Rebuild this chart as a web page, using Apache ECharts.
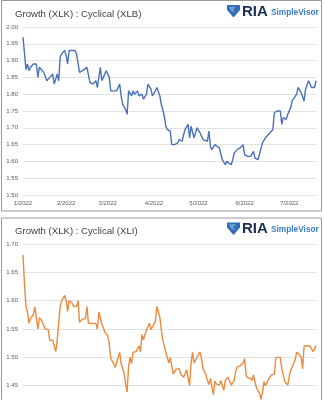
<!DOCTYPE html>
<html><head><meta charset="utf-8">
<script src="https://cdn.jsdelivr.net/npm/echarts@6/dist/echarts.min.js"></script>
<style>html,body{margin:0;padding:0;background:#fff}#c{width:324px;height:400px}</style>
</head><body><div id="c"></div><script>
// x values: calendar days since 2022-01-03
const monthTicks = [0, 29, 57, 88, 118, 149, 179];
const monthLabels = ['1/2022', '2/2022', '3/2022', '4/2022', '5/2022', '6/2022', '7/2022'];

const titles = ['Growth (XLK) : Cyclical (XLB)', 'Growth (XLK) : Cyclical (XLI)'];

const daysXLB = [0,2,3,4,5,7,9,10,11,12,14,16,18,20,21,23,24,25,26,28,29,30,31,33,35,36,38,40,41,43,45,47,49,50,52,53,54,56,58,59,61,63,65,66,67,69,70,71,73,74,75,76,77,78,80,81,83,84,86,87,89,90,92,93,95,96,97,99,100,102,104,105,107,108,109,111,112,113,114,115,117,118,119,121,122,124,125,126,127,129,130,132,133,134,136,137,138,140,141,142,144,145,146,148,149,151,152,153,155,156,158,159,161,162,163,165,166,168,169,171,173,174,175,177,178,180,181,182,184,185,186,187,189,190,192,193,194,196,197];
const valsXLB = [1.97,1.873,1.89,1.87,1.88,1.89,1.89,1.85,1.88,1.875,1.865,1.84,1.85,1.86,1.83,1.86,1.84,1.91,1.92,1.93,1.915,1.89,1.93,1.93,1.93,1.92,1.865,1.87,1.875,1.88,1.835,1.83,1.84,1.82,1.88,1.84,1.85,1.87,1.85,1.81,1.81,1.81,1.83,1.795,1.77,1.755,1.74,1.81,1.795,1.81,1.80,1.795,1.81,1.795,1.80,1.785,1.80,1.83,1.815,1.795,1.81,1.82,1.795,1.77,1.735,1.705,1.695,1.69,1.65,1.65,1.655,1.665,1.66,1.68,1.695,1.71,1.67,1.705,1.71,1.67,1.70,1.695,1.685,1.665,1.665,1.66,1.69,1.645,1.635,1.65,1.645,1.64,1.635,1.605,1.59,1.60,1.595,1.59,1.605,1.625,1.635,1.635,1.64,1.65,1.62,1.615,1.61,1.615,1.63,1.61,1.605,1.60,1.655,1.65,1.67,1.68,1.685,1.695,1.745,1.75,1.75,1.71,1.73,1.725,1.74,1.76,1.78,1.78,1.80,1.82,1.815,1.805,1.78,1.815,1.84,1.83,1.82,1.82,1.84];

const daysXLI = [0,1,2,3,4,5,7,8,9,10,11,13,14,15,17,18,20,21,22,23,25,26,28,29,30,31,33,34,36,37,38,40,42,43,44,46,47,49,50,51,53,54,55,57,58,59,61,62,63,65,66,68,69,70,71,72,73,74,75,76,78,79,80,81,82,83,85,86,87,89,90,92,93,94,96,97,98,99,101,102,103,105,106,108,109,110,112,113,114,115,117,118,119,120,121,123,124,125,126,127,128,129,130,132,133,134,135,136,138,139,140,142,143,144,146,148,149,150,151,153,154,155,156,157,159,160,161,162,163,165,166,167,169,170,171,173,174,175,176,178,179,180,182,183,184,186,187,188,189,191,193,194,195,197];
const valsXLI = [1.681,1.63,1.59,1.58,1.56,1.568,1.576,1.589,1.59,1.55,1.57,1.563,1.556,1.55,1.549,1.53,1.53,1.53,1.51,1.53,1.59,1.60,1.609,1.601,1.581,1.60,1.596,1.59,1.59,1.60,1.562,1.567,1.569,1.59,1.56,1.56,1.56,1.56,1.55,1.58,1.558,1.553,1.544,1.538,1.523,1.498,1.489,1.482,1.48,1.509,1.489,1.472,1.453,1.439,1.484,1.50,1.489,1.509,1.51,1.51,1.52,1.51,1.54,1.531,1.54,1.548,1.56,1.549,1.549,1.563,1.59,1.571,1.549,1.53,1.51,1.50,1.49,1.50,1.471,1.475,1.479,1.48,1.471,1.465,1.471,1.478,1.45,1.489,1.509,1.49,1.50,1.505,1.509,1.498,1.48,1.469,1.459,1.452,1.463,1.448,1.434,1.458,1.453,1.451,1.459,1.45,1.442,1.459,1.465,1.468,1.451,1.459,1.475,1.483,1.485,1.49,1.498,1.469,1.464,1.463,1.459,1.469,1.456,1.446,1.437,1.426,1.438,1.457,1.45,1.461,1.464,1.469,1.47,1.50,1.50,1.50,1.48,1.469,1.457,1.451,1.467,1.477,1.489,1.496,1.509,1.504,1.50,1.48,1.52,1.52,1.52,1.521,1.51,1.521];

const pair = (xs, ys) => xs.map((x, i) => [x, ys[i]]);

const FONT = '"Liberation Sans", Arial, sans-serif';
const labelStyle = { fontSize: 6, color: '#5a5a5a', fontFamily: FONT };

function panelGraphics(y0) {
  return [
    { type: 'rect', shape: { x: 1.5, y: y0 + 0.5, width: 320, height: y0 === 0 ? 210.5 : 200 },
      style: { fill: 'none', stroke: '#9a9a9a', lineWidth: 1 }, z: 10 },
    { type: 'polygon', shape: { points: [[227, y0 + 5], [240, y0 + 5], [240, y0 + 10], [233.5, y0 + 17.5], [227, y0 + 10]] },
      style: { fill: '#2f6db3' }, z: 10 },
    { type: 'polygon', shape: { points: [[229, y0 + 7], [236, y0 + 6.5], [233, y0 + 10], [236, y0 + 13], [231, y0 + 11]] },
      style: { fill: '#6fa3dc' }, z: 11 },
    { type: 'text', x: 242, y: y0 + 11.5, z: 10,
      style: { text: 'RIA', font: 'bold 15px ' + FONT, fill: '#1d2f57', textVerticalAlign: 'middle' } },
    { type: 'text', x: 271, y: y0 + 12.5, z: 10,
      style: { text: 'SimpleVisor', font: 'bold 8.3px ' + FONT, fill: '#3b7cc9', textVerticalAlign: 'middle' } }
  ];
}

const chart = echarts.init(document.getElementById('c'), null, { renderer: 'canvas' });
const grids = [
  { left: 23, top: 27, width: 293, height: 168, outerBoundsMode: 'none', containLabel: false },
  { left: 23, top: 244, width: 293, height: 170, outerBoundsMode: 'none', containLabel: false }
];
const yRanges = [[1.5, 2.0], [1.4, 1.7]];

chart.setOption({
  animation: false,
  backgroundColor: '#fff',
  title: [
    { text: titles[0], left: 10, top: 4, textStyle: { fontSize: 9.6, fontWeight: 'normal', color: '#404040', fontFamily: FONT } },
    { text: titles[1], left: 10, top: 221, textStyle: { fontSize: 9.6, fontWeight: 'normal', color: '#404040', fontFamily: FONT } }
  ],
  graphic: panelGraphics(0).concat(panelGraphics(217.5)),
  grid: grids,
  xAxis: [0, 1].map(i => ({
    gridIndex: i, type: 'value', min: 0, max: 197,
    axisLine: { show: false }, axisTick: { show: false }, splitLine: { show: false },
    axisLabel: Object.assign({ customValues: monthTicks, margin: 5,
      formatter: v => monthLabels[monthTicks.indexOf(v)] }, labelStyle)
  })),
  yAxis: [0, 1].map(i => ({
    gridIndex: i, type: 'value', min: yRanges[i][0], max: yRanges[i][1], interval: 0.05,
    axisLine: { show: false }, axisTick: { show: false },
    splitLine: { lineStyle: { color: '#e2e2e2', width: 1 } },
    axisLabel: Object.assign({ margin: 5, formatter: v => v.toFixed(2) }, labelStyle)
  })),
  series: [
    { type: 'line', xAxisIndex: 0, yAxisIndex: 0, data: pair(daysXLB, valsXLB), showSymbol: false,
      lineStyle: { color: '#4a72b8', width: 1.4 }, itemStyle: { color: '#4a72b8' } },
    { type: 'line', xAxisIndex: 1, yAxisIndex: 1, data: pair(daysXLI, valsXLI), showSymbol: false,
      lineStyle: { color: '#ec8a3e', width: 1.4 }, itemStyle: { color: '#ec8a3e' } }
  ]
});
</script></body></html>
